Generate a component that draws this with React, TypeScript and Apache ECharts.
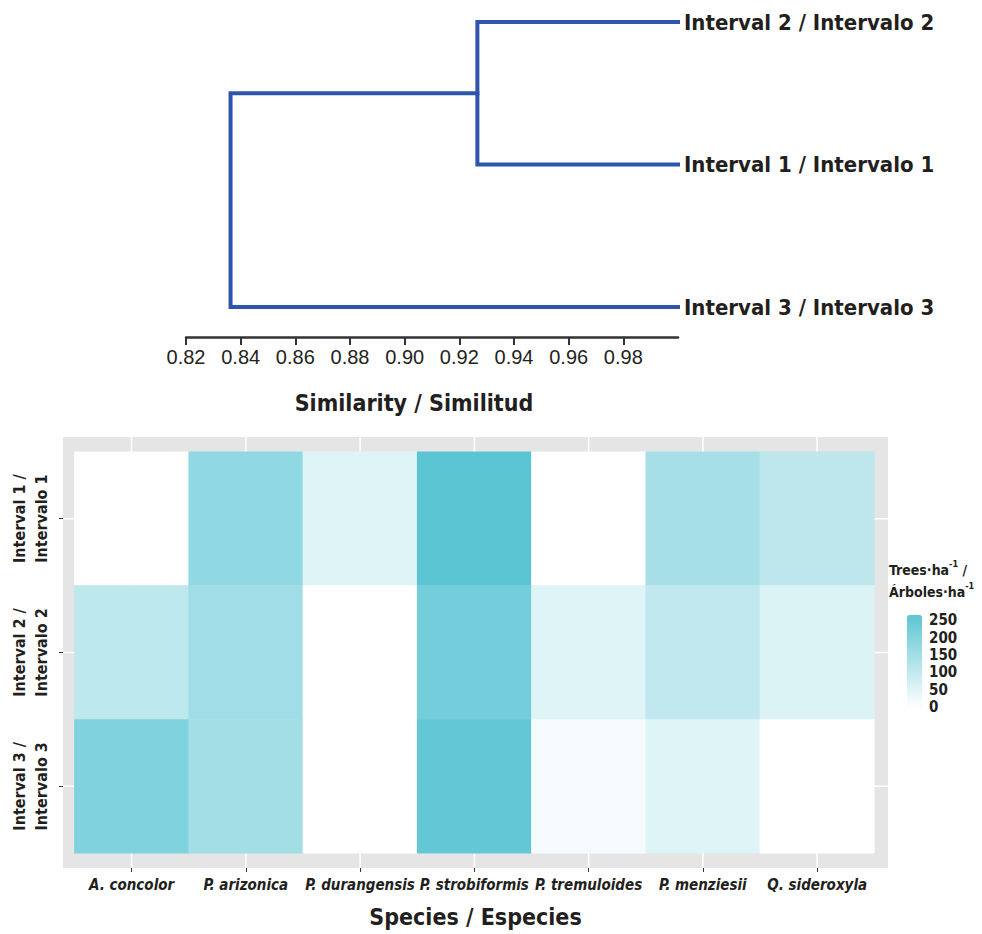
import React, { useEffect, useRef } from 'react';
import * as echarts from 'echarts';

// ---------- Dendrogram data ----------
const leafLabels = ['Interval 2 / Intervalo 2', 'Interval 1 / Intervalo 1', 'Interval 3 / Intervalo 3'];
const leafSimilarity = 1.0;
const mergeSimilarity = [0.9266, 0.8363]; // (I2,I1) then ((I2,I1),I3)
const similarityTicks = [0.82, 0.84, 0.86, 0.88, 0.9, 0.92, 0.94, 0.96, 0.98];

// ---------- Heatmap data ----------
const species = ['A. concolor', 'P. arizonica', 'P. durangensis', 'P. strobiformis', 'P. tremuloides', 'P. menziesii', 'Q. sideroxyla'];
const intervals = ['Interval 1 /\nIntervalo 1', 'Interval 2 /\nIntervalo 2', 'Interval 3 /\nIntervalo 3'];
const interval1 = [0, 180, 52, 265, 0, 144, 108];
const interval2 = [107, 154, 0, 228, 52, 103, 57];
const interval3 = [206, 150, 0, 254, 16, 52, 0];
const legendTicks = [0, 50, 100, 150, 200, 250];

const COND = '"Liberation Sans Narrow", "DejaVu Sans Condensed", "Roboto", "Liberation Sans", sans-serif';
const TXT = '#231F20';

export default function App() {
  const ref = useRef<HTMLDivElement>(null);
  useEffect(() => {
    if (!ref.current) return;
    const chart = echarts.init(ref.current, undefined, { renderer: 'svg' });

    const m0 = mergeSimilarity[0];
    const m1 = mergeSimilarity[1];
    const path1 = [[leafSimilarity, 0], [m0, 0], [m0, 1], [leafSimilarity, 1]];
    const path2 = [[m0, 0.5], [m1, 0.5], [m1, 2], [leafSimilarity, 2]];

    const rows = [interval1, interval2, interval3];
    const tiles: number[][] = [];
    rows.forEach((r, ri) => r.forEach((v, ci) => tiles.push([ci, ri, v])));

    const dendroLine = { color: '#2D55AC', width: 4, cap: 'square', join: 'miter' };

    const option: any = {
      animation: false,
      backgroundColor: '#ffffff',
      grid: [
        { left: 186, top: 22, width: 492, height: 315, show: false },
        { left: 63, top: 437, width: 825, height: 431, show: true, backgroundColor: '#E5E5E5', borderWidth: 0 },
        { left: 907, top: 615, width: 15, height: 92, show: false },
      ],
      xAxis: [
        {
          gridIndex: 0, type: 'value', min: 0.82, max: 1.0, position: 'bottom',
          axisLine: { show: true, onZero: false, lineStyle: { color: '#333', width: 2.5 } },
          axisTick: { show: true, customValues: similarityTicks, length: 8, lineStyle: { color: '#333', width: 2 } },
          axisLabel: { customValues: similarityTicks, formatter: (v: number) => v.toFixed(2), fontSize: 20, color: TXT, fontFamily: '"Liberation Sans", Arial, sans-serif', margin: 10 },
          splitLine: { show: false },
        },
        {
          gridIndex: 1, type: 'value', min: -0.6, max: 6.62,
          axisLine: { show: false, onZero: false },
          axisTick: { show: true, customValues: species.map((_, i) => i), length: 4, lineStyle: { color: '#333', width: 1 } },
          axisLabel: { customValues: species.map((_, i) => i), formatter: (v: number) => species[Math.round(v)], fontSize: 15, fontStyle: 'italic', fontWeight: 'bold', color: TXT, fontFamily: COND, margin: 9 },
          splitLine: { show: false },
          name: 'Species / Especies', nameLocation: 'middle', nameGap: 37,
          nameTextStyle: { fontSize: 23, fontWeight: 'bold', color: TXT, fontFamily: COND },
        },
        { gridIndex: 2, type: 'value', show: false },
      ],
      yAxis: [
        {
          gridIndex: 0, type: 'value', min: 0, max: 2.21, inverse: true, position: 'right',
          axisLine: { show: false, onZero: false }, axisTick: { show: false }, splitLine: { show: false },
          axisLabel: { customValues: [0, 1, 2], formatter: (v: number) => leafLabels[Math.round(v)], fontSize: 22, fontWeight: 'bold', color: TXT, fontFamily: COND, margin: 6 },
        },
        {
          gridIndex: 1, type: 'value', min: -0.61, max: 2.61, inverse: true,
          axisLine: { show: false, onZero: false },
          axisTick: { show: true, customValues: [0, 1, 2], length: 4, lineStyle: { color: '#333', width: 1 } },
          axisLabel: { customValues: [0, 1, 2], formatter: (v: number) => intervals[Math.round(v)], rotate: 90, fontSize: 16, lineHeight: 22, fontWeight: 'bold', color: TXT, fontFamily: COND, margin: 11, align: 'center' },
          splitLine: { show: false },
        },
        {
          gridIndex: 2, type: 'value', min: 0, max: 265, position: 'right',
          axisLine: { show: false, onZero: false }, axisTick: { show: false }, splitLine: { show: false },
          axisLabel: { customValues: legendTicks, fontSize: 15, lineHeight: 15, fontWeight: 'bold', color: TXT, fontFamily: COND, margin: 7 },
        },
      ],
      visualMap: {
        type: 'continuous', seriesIndex: 4, dimension: 2, min: 0, max: 265,
        inRange: { color: ['#FFFFFF', '#5CC5D4'] },
        calculable: false, left: 907, top: 615, itemWidth: 15, itemHeight: 92, padding: 0,
        orient: 'vertical', showLabel: false,
      },
      graphic: [
        {
          type: 'text', x: 414, y: 403,
          style: { text: 'Similarity / Similitud', align: 'center', verticalAlign: 'middle', fontSize: 23, fontWeight: 'bold', fontFamily: COND, fill: TXT },
        },
        {
          type: 'text', x: 889, y: 559,
          style: {
            text: 'Trees·ha{s|-1} /\nÁrboles·ha{s|-1}', align: 'left', verticalAlign: 'top',
            fontSize: 14, fontWeight: 'bold', fontFamily: COND, fill: TXT, lineHeight: 22,
            rich: { s: { fontSize: 9, fontWeight: 'bold', fontFamily: COND, fill: TXT, verticalAlign: 'top', lineHeight: 16 } },
          },
        },
      ],
      series: [
        { type: 'line', xAxisIndex: 0, yAxisIndex: 0, data: path1, showSymbol: false, symbol: 'none', lineStyle: dendroLine, silent: true },
        { type: 'line', xAxisIndex: 0, yAxisIndex: 0, data: path2, showSymbol: false, symbol: 'none', lineStyle: dendroLine, silent: true },
        {
          type: 'custom', xAxisIndex: 1, yAxisIndex: 1, z: 1, silent: true,
          data: species.map((_, i) => [i, 0]),
          encode: { x: 0, y: 1 },
          renderItem: (params: any, api: any) => {
            const cs = params.coordSys;
            const x = api.coord([api.value(0), 0])[0];
            return { type: 'line', shape: { x1: x, y1: cs.y, x2: x, y2: cs.y + cs.height }, style: { stroke: '#FFFFFF', lineWidth: 1.5 } };
          },
        },
        {
          type: 'custom', xAxisIndex: 1, yAxisIndex: 1, z: 1, silent: true,
          data: intervals.map((_, i) => [0, i]),
          encode: { x: 0, y: 1 },
          renderItem: (params: any, api: any) => {
            const cs = params.coordSys;
            const y = api.coord([0, api.value(1)])[1];
            return { type: 'line', shape: { x1: cs.x, y1: y, x2: cs.x + cs.width, y2: y }, style: { stroke: '#FFFFFF', lineWidth: 1.5 } };
          },
        },
        {
          type: 'custom', xAxisIndex: 1, yAxisIndex: 1, z: 3, silent: true,
          data: tiles,
          encode: { x: 0, y: 1 },
          renderItem: (params: any, api: any) => {
            const c = api.coord([api.value(0), api.value(1)]);
            const s = api.size([1, 1]);
            return {
              type: 'rect',
              shape: { x: c[0] - s[0] / 2 - 0.3, y: c[1] - s[1] / 2 - 0.3, width: s[0] + 0.6, height: s[1] + 0.6 },
              style: { fill: api.visual('color') },
            };
          },
        },
      ],
    };
    chart.setOption(option);
    return () => chart.dispose();
  }, []);
  return <div ref={ref} style={{ position: 'absolute', left: 0, top: 0, width: 982, height: 934 }} />;
}
